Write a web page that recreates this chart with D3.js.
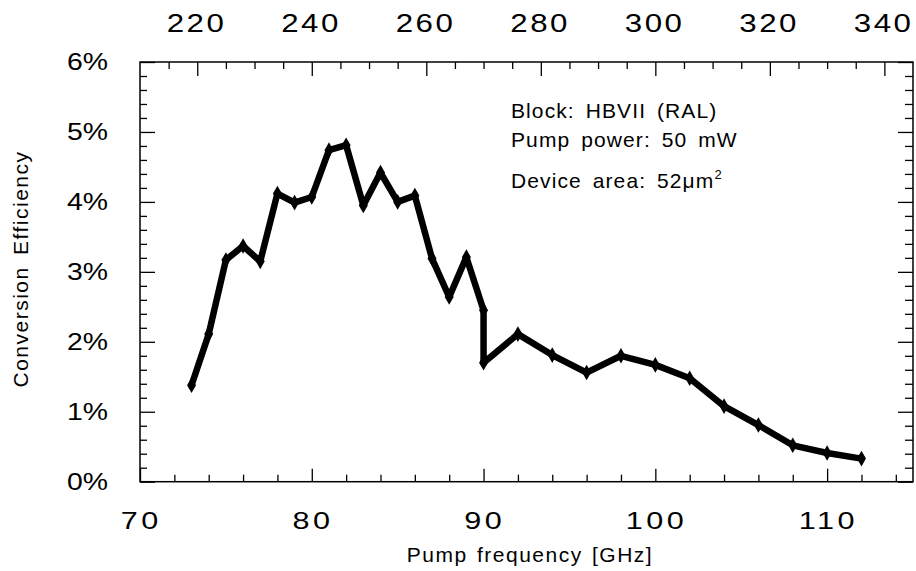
<!DOCTYPE html>
<html>
<head>
<meta charset="utf-8">
<script src="https://cdn.jsdelivr.net/npm/d3@7"></script>
<style>
  body { margin: 0; background: #fff; }
  text { font-family: "Liberation Sans", Arial, Helvetica, sans-serif; fill: #000; }
</style>
</head>
<body>
<div id="graph"></div>
<script>
// pump frequency [GHz] and conversion efficiency [%]
var freq = [73, 74, 75, 76, 77, 78, 79, 80, 81, 82, 83, 84, 85, 86, 87, 88, 89, 90,
            90, 92, 94, 96, 98, 100, 102, 104, 106, 108, 110, 112];
var eff = [1.38, 2.11, 3.17, 3.37, 3.15, 4.12, 3.99, 4.07, 4.74, 4.81, 3.95, 4.42, 4.0, 4.09,
           3.19, 2.64, 3.21, 2.45, 1.70, 2.11, 1.81, 1.56, 1.80, 1.67, 1.48, 1.08, 0.81, 0.52, 0.41, 0.33];

// tick values
var xMajor = [70, 80, 90, 100, 110];
var xMinor = [72, 74, 76, 78, 82, 84, 86, 88, 92, 94, 96, 98, 102, 104, 106, 108, 112, 114];
var topMajor = [220, 240, 260, 280, 300, 320, 340];
var topMinor = [215, 225, 230, 235, 245, 250, 255, 265, 270, 275, 285, 290, 295,
                305, 310, 315, 325, 330, 335];
var yMajor = [0, 1, 2, 3, 4, 5, 6];
var yMinor = [0.2, 0.4, 0.6, 0.8, 1.2, 1.4, 1.6, 1.8, 2.2, 2.4, 2.6, 2.8, 3.2, 3.4, 3.6, 3.8,
              4.2, 4.4, 4.6, 4.8, 5.2, 5.4, 5.6, 5.8];

var notes = ["Block: HBVII (RAL)", "Pump power: 50 mW"];

var W = 916, H = 571;
var margin = {left: 140, right: 913, top: 62, bottom: 481.7};

var svg = d3.select("#graph").append("svg")
    .attr("width", W)
    .attr("height", H);

var x = d3.scaleLinear().domain([70, 115]).range([margin.left, margin.right]);
var xTop = d3.scaleLinear().domain([210, 345]).range([margin.left, margin.right]); // tripled frequency
var y = d3.scaleLinear().domain([0, 6]).range([margin.bottom, margin.top]);

// the original digits are wide and spaced out
function widen(sel, sx, ls, shift) {
    sel.selectAll("text")
        .attr("transform", "translate(" + shift + ",0) scale(" + sx + ",1)")
        .attr("dx", ls / 2)
        .style("letter-spacing", ls + "px");
}

function stretch(sel, perChar) {
    sel.selectAll("text").each(function() {
        var t = d3.select(this);
        t.attr("textLength", t.text().length * perChar)
         .attr("lengthAdjust", "spacingAndGlyphs");
    });
}

function axisStyle(g, size) {
    g.attr("font-family", null).attr("font-size", size);
    g.select(".domain").remove();
    g.selectAll("line").attr("stroke", "#000").attr("stroke-width", 1.3);
}

// bottom axis
svg.append("g")
    .attr("transform", "translate(0," + margin.bottom + ")")
    .call(d3.axisBottom(x).tickValues(xMinor).tickSize(-7).tickFormat(""))
    .call(axisStyle, 23);
var gx = svg.append("g")
    .attr("transform", "translate(0," + margin.bottom + ")")
    .call(d3.axisBottom(x).tickValues(xMajor).tickSize(-13).tickPadding(31).tickFormat(d3.format("d")))
    .call(axisStyle, 23);
widen(gx, 1.33, 2.6, -1);

// top axis
svg.append("g")
    .attr("transform", "translate(0," + margin.top + ")")
    .call(d3.axisTop(xTop).tickValues(topMinor).tickSize(-7).tickFormat(""))
    .call(axisStyle, 25);
var gt = svg.append("g")
    .attr("transform", "translate(0," + margin.top + ")")
    .call(d3.axisTop(xTop).tickValues(topMajor).tickSize(-14).tickPadding(30).tickFormat(d3.format("d")))
    .call(axisStyle, 25);
widen(gt, 1.25, 2, -2.5);

// left axis
svg.append("g")
    .attr("transform", "translate(" + margin.left + ",0)")
    .call(d3.axisLeft(y).tickValues(yMinor).tickSize(-7).tickFormat(""))
    .call(axisStyle, 23);
var gy = svg.append("g")
    .attr("transform", "translate(" + margin.left + ",0)")
    .call(d3.axisLeft(y).tickValues(yMajor).tickSize(-15).tickPadding(32).tickFormat(function(d) { return d + "%"; }))
    .call(axisStyle, 23);
stretch(gy, 20.5);

// right axis, ticks only
svg.append("g")
    .attr("transform", "translate(" + margin.right + ",0)")
    .call(d3.axisRight(y).tickValues(yMinor).tickSize(-8).tickFormat(""))
    .call(axisStyle, 23);
svg.append("g")
    .attr("transform", "translate(" + margin.right + ",0)")
    .call(d3.axisRight(y).tickValues(yMajor).tickSize(-15).tickFormat(""))
    .call(axisStyle, 23);

// frame
svg.append("rect")
    .attr("x", margin.left).attr("y", margin.top)
    .attr("width", margin.right - margin.left).attr("height", margin.bottom - margin.top)
    .attr("fill", "none")
    .attr("stroke", "#000")
    .attr("stroke-width", 1.5);

// axis titles
svg.append("text")
    .attr("x", 530).attr("y", 561.5)
    .attr("text-anchor", "middle")
    .style("font-size", "21px")
    .style("letter-spacing", "1.5px")
    .style("word-spacing", "2px")
    .text("Pump frequency [GHz]");

svg.append("text")
    .attr("transform", "translate(28,269) rotate(-90)")
    .attr("text-anchor", "middle")
    .style("font-size", "21px")
    .style("letter-spacing", "1.5px")
    .style("word-spacing", "4px")
    .text("Conversion Efficiency");

// notes
svg.selectAll(".note")
    .data(notes)
    .enter().append("text")
    .attr("class", "note")
    .attr("x", 511)
    .attr("y", function(d, i) { return 118.3 + i * 28.4; })
    .style("font-size", "21px")
    .style("letter-spacing", "1.1px")
    .style("word-spacing", "4px")
    .text(function(d) { return d; });

var area = svg.append("text")
    .attr("x", 511).attr("y", 188.3)
    .style("font-size", "21px")
    .style("letter-spacing", "1.1px")
    .style("word-spacing", "4px");
area.append("tspan").text("Device area: 52\u03bcm");
area.append("tspan").attr("dy", -9).style("font-size", "13px").text("2");

// data line
var dataset = freq.map(function(f, i) { return {f: f, e: eff[i]}; });

var line = d3.line()
    .x(function(d) { return x(d.f); })
    .y(function(d) { return y(d.e); });

svg.append("path")
    .datum(dataset)
    .attr("fill", "none")
    .attr("stroke", "#000")
    .attr("stroke-width", 6.5)
    .attr("stroke-linejoin", "round")
    .attr("stroke-linecap", "round")
    .attr("d", line);

svg.selectAll(".dot")
    .data(dataset)
    .enter().append("path")
    .attr("class", "dot")
    .attr("transform", function(d) { return "translate(" + x(d.f) + "," + y(d.e) + ")"; })
    .attr("d", d3.symbol(d3.symbolDiamond, 70))
    .attr("fill", "#000");
</script>
</body>
</html>
